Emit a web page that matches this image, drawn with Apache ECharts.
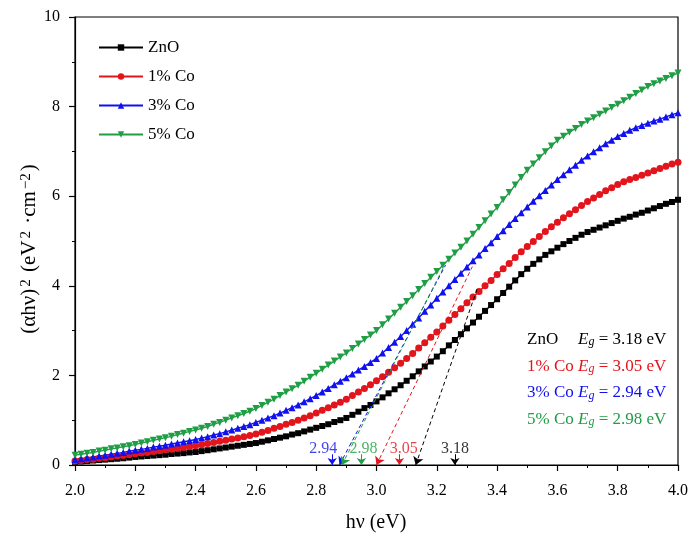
<!DOCTYPE html>
<html>
<head>
<meta charset="utf-8">
<script src="https://cdn.jsdelivr.net/npm/echarts@6/dist/echarts.min.js"></script>
<style>
  html, body { margin: 0; padding: 0; background: #fff; }
  #chart { width: 699px; height: 541px; }
</style>
</head>
<body>
<div id="chart"></div>
<script>
// Photon energy hν (eV)
const energy = [
  2.00, 2.02, 2.04, 2.06, 2.08, 2.10, 2.12, 2.14, 2.16, 2.18,
  2.20, 2.22, 2.24, 2.26, 2.28, 2.30, 2.32, 2.34, 2.36, 2.38,
  2.40, 2.42, 2.44, 2.46, 2.48, 2.50, 2.52, 2.54, 2.56, 2.58,
  2.60, 2.62, 2.64, 2.66, 2.68, 2.70, 2.72, 2.74, 2.76, 2.78,
  2.80, 2.82, 2.84, 2.86, 2.88, 2.90, 2.92, 2.94, 2.96, 2.98,
  3.00, 3.02, 3.04, 3.06, 3.08, 3.10, 3.12, 3.14, 3.16, 3.18,
  3.20, 3.22, 3.24, 3.26, 3.28, 3.30, 3.32, 3.34, 3.36, 3.38,
  3.40, 3.42, 3.44, 3.46, 3.48, 3.50, 3.52, 3.54, 3.56, 3.58,
  3.60, 3.62, 3.64, 3.66, 3.68, 3.70, 3.72, 3.74, 3.76, 3.78,
  3.80, 3.82, 3.84, 3.86, 3.88, 3.90, 3.92, 3.94, 3.96, 3.98,
  4.00
];

// (αhν)^2 for each sample
const znO = [
  0.07, 0.08, 0.09, 0.10, 0.11, 0.12, 0.13, 0.14, 0.15, 0.165,
  0.18, 0.19, 0.20, 0.21, 0.22, 0.23, 0.245, 0.255, 0.265, 0.28,
  0.29, 0.31, 0.33, 0.35, 0.37, 0.39, 0.41, 0.43, 0.45, 0.47,
  0.49, 0.52, 0.55, 0.58, 0.61, 0.64, 0.68, 0.71, 0.75, 0.79,
  0.83, 0.87, 0.91, 0.96, 1.00, 1.05, 1.12, 1.19, 1.27, 1.34,
  1.42, 1.51, 1.60, 1.69, 1.78, 1.88, 1.98, 2.09, 2.20, 2.31,
  2.42, 2.54, 2.67, 2.79, 2.92, 3.05, 3.18, 3.31, 3.44, 3.57,
  3.70, 3.84, 3.98, 4.12, 4.26, 4.38, 4.49, 4.59, 4.69, 4.77,
  4.85, 4.93, 5.00, 5.07, 5.14, 5.20, 5.25, 5.30, 5.35, 5.40,
  5.45, 5.50, 5.54, 5.59, 5.63, 5.68, 5.73, 5.78, 5.83, 5.87,
  5.92
];
const co1 = [
  0.09, 0.10, 0.12, 0.13, 0.15, 0.16, 0.18, 0.20, 0.21, 0.23,
  0.25, 0.27, 0.28, 0.30, 0.32, 0.34, 0.35, 0.37, 0.39, 0.41,
  0.43, 0.45, 0.48, 0.50, 0.53, 0.55, 0.58, 0.60, 0.63, 0.66,
  0.69, 0.73, 0.77, 0.82, 0.86, 0.91, 0.95, 1.00, 1.05, 1.10,
  1.16, 1.22, 1.28, 1.34, 1.40, 1.47, 1.55, 1.63, 1.71, 1.79,
  1.88, 1.97, 2.07, 2.17, 2.27, 2.38, 2.49, 2.61, 2.73, 2.85,
  2.97, 3.10, 3.23, 3.36, 3.49, 3.62, 3.75, 3.87, 4.00, 4.12,
  4.25, 4.38, 4.50, 4.63, 4.76, 4.88, 4.99, 5.10, 5.21, 5.32,
  5.42, 5.52, 5.61, 5.70, 5.79, 5.88, 5.96, 6.04, 6.12, 6.19,
  6.26, 6.32, 6.37, 6.42, 6.47, 6.52, 6.57, 6.62, 6.67, 6.72,
  6.76
];
const co3 = [
  0.12, 0.14, 0.16, 0.18, 0.20, 0.22, 0.24, 0.26, 0.28, 0.31,
  0.33, 0.35, 0.37, 0.40, 0.42, 0.44, 0.47, 0.49, 0.52, 0.54,
  0.57, 0.60, 0.63, 0.67, 0.70, 0.74, 0.78, 0.82, 0.86, 0.90,
  0.95, 1.00, 1.05, 1.10, 1.16, 1.22, 1.28, 1.34, 1.41, 1.48,
  1.55, 1.63, 1.71, 1.79, 1.87, 1.95, 2.03, 2.12, 2.20, 2.29,
  2.38, 2.50, 2.62, 2.74, 2.87, 3.00, 3.14, 3.28, 3.43, 3.57,
  3.72, 3.86, 4.00, 4.14, 4.28, 4.42, 4.56, 4.69, 4.83, 4.96,
  5.10, 5.23, 5.37, 5.50, 5.63, 5.76, 5.89, 6.01, 6.13, 6.25,
  6.37, 6.48, 6.59, 6.69, 6.80, 6.90, 6.99, 7.08, 7.17, 7.25,
  7.33, 7.40, 7.47, 7.53, 7.58, 7.63, 7.68, 7.72, 7.77, 7.82,
  7.86
];
const co5 = [
  0.22, 0.24, 0.26, 0.28, 0.31, 0.33, 0.36, 0.38, 0.41, 0.43,
  0.46, 0.49, 0.52, 0.55, 0.58, 0.61, 0.64, 0.68, 0.71, 0.75,
  0.78, 0.82, 0.86, 0.91, 0.95, 1.00, 1.05, 1.10, 1.15, 1.20,
  1.26, 1.33, 1.40, 1.47, 1.55, 1.63, 1.70, 1.78, 1.87, 1.96,
  2.05, 2.14, 2.23, 2.32, 2.41, 2.50, 2.60, 2.70, 2.80, 2.90,
  3.00, 3.13, 3.26, 3.39, 3.52, 3.65, 3.78, 3.92, 4.05, 4.19,
  4.32, 4.46, 4.59, 4.73, 4.86, 5.00, 5.15, 5.30, 5.45, 5.60,
  5.75, 5.92, 6.08, 6.25, 6.42, 6.58, 6.72, 6.86, 6.99, 7.12,
  7.25, 7.34, 7.43, 7.51, 7.60, 7.68, 7.75, 7.83, 7.90, 7.98,
  8.05, 8.13, 8.21, 8.29, 8.37, 8.45, 8.51, 8.57, 8.63, 8.69,
  8.75
];

const seriesNames = ['ZnO', '1% Co', '3% Co', '5% Co'];
const bandGap = ['3.18', '3.05', '2.94', '2.98'];

// Linear extrapolation segments: [x at y=0, x top, y top]
const fitStart = [3.13, 3.00, 2.877, 2.885];
const fitEndX = [3.335, 3.318, 3.229, 3.223];
const fitEndY = [3.95, 4.43, 4.46, 4.42];

// Short pointer arrows above the axis and their labels
const pointerX = [3.26, 3.076, 2.853, 2.95];
const pointerLabelX = [3.26, 3.09, 2.823, 2.957];

const colors = ['#000000', '#e2141c', '#1010f0', '#1f9e45'];
const symbols = ['rect', 'circle', 'triangle', 'path://M0,0 L2,0 L1,1.75 Z'];
const symbolSizes = [6, 7, 7, 7];
const serif = 'Liberation Serif';
const values = [znO, co1, co3, co5];

const curveSeries = seriesNames.map((name, i) => ({
  name: name,
  type: 'line',
  data: energy.map((e, k) => [e, values[i][k]]),
  symbol: symbols[i],
  symbolSize: symbolSizes[i],
  showAllSymbol: true,
  itemStyle: { color: colors[i] },
  lineStyle: { color: colors[i], width: 1.4 },
  z: 3,
  markLine: {
    silent: true,
    animation: false,
    label: { show: false },
    lineStyle: { color: colors[i], type: [4, 3], width: 1 },
    data: [
      [
        { coord: [fitStart[i], 0], symbol: 'arrow', symbolSize: 8 },
        { coord: [fitEndX[i], fitEndY[i]], symbol: 'none' }
      ],
      [
        { coord: [pointerX[i], 0.24], symbol: 'none', lineStyle: { type: 'solid', width: 1 } },
        { coord: [pointerX[i], 0.0], symbol: 'arrow', symbolSize: 7, lineStyle: { type: 'solid', width: 1 } }
      ]
    ]
  }
}));

const pointerLabels = {
  type: 'scatter',
  silent: true,
  symbolSize: 0,
  z: 5,
  data: seriesNames.map((n, i) => ({
    value: [pointerLabelX[i], 0.36],
    label: {
      show: true,
      position: 'inside',
      formatter: bandGap[i],
      color: colors[i],
      fontFamily: serif,
      fontSize: 16
    }
  }))
};

// Band-gap summary text block: sample name, then E_g value
const gapRows = seriesNames.map((n, i) => ({
  type: 'text', left: 527, top: 331 + i * 26.7,
  style: {
    text: '{n|' + n + '}{i|E}{s|g}{t| = ' + bandGap[i] + ' eV}',
    fill: colors[i],
    rich: {
      n: { fontFamily: serif, fontSize: 17, lineHeight: 21, width: 51, verticalAlign: 'bottom', fill: colors[i] },
      i: { fontFamily: serif, fontStyle: 'italic', fontSize: 17, lineHeight: 21, verticalAlign: 'bottom', fill: colors[i] },
      s: { fontFamily: serif, fontStyle: 'italic', fontSize: 12, lineHeight: 11, verticalAlign: 'bottom', fill: colors[i] },
      t: { fontFamily: serif, fontSize: 17, lineHeight: 21, verticalAlign: 'bottom', fill: colors[i] }
    }
  }
}));

const chart = echarts.init(document.getElementById('chart'), null, { renderer: 'canvas' });
chart.setOption({
  animation: false,
  backgroundColor: '#fff',
  grid: {
    left: 75, right: 21, top: 17, bottom: 76,
    show: true, borderColor: '#000', borderWidth: 1.2, backgroundColor: 'transparent'
  },
  legend: {
    data: seriesNames,
    orient: 'vertical',
    left: 93, top: 34,
    itemWidth: 44, itemHeight: 8, itemGap: 12,
    textStyle: { fontFamily: serif, fontSize: 17, color: '#000' }
  },
  xAxis: {
    type: 'value', min: 2.0, max: 4.0, interval: 0.2,
    axisLine: { lineStyle: { color: '#000', width: 1.2 } },
    axisTick: { show: true, inside: false, length: 6, lineStyle: { color: '#000', width: 1.2 } },
    minorTick: { show: true, splitNumber: 2, length: 3, lineStyle: { color: '#000', width: 1 } },
    splitLine: { show: false },
    axisLabel: { fontFamily: serif, fontSize: 16, color: '#000', margin: 18, formatter: v => v.toFixed(1) }
  },
  yAxis: {
    type: 'value', min: 0, max: 10, interval: 2,
    axisLine: { show: true, lineStyle: { color: '#000', width: 1.2 } },
    axisTick: { show: true, inside: false, length: 6, lineStyle: { color: '#000', width: 1.2 } },
    minorTick: { show: true, splitNumber: 2, length: 3, lineStyle: { color: '#000', width: 1 } },
    splitLine: { show: false },
    axisLabel: { fontFamily: serif, fontSize: 16, color: '#000', margin: 15 }
  },
  graphic: [
    {
      type: 'text', x: 376, y: 523,
      style: {
        text: 'hν (eV)', font: '20px "Liberation Serif"', fill: '#000',
        textAlign: 'center', textVerticalAlign: 'middle'
      }
    },
    {
      type: 'text', x: 31, y: 249, rotation: Math.PI / 2,
      style: {
        text: '{a|(αhν)}{b|2}{a| (eV}{b|2}{a| ·cm}{b|−2}{a|)}',
        textAlign: 'center', textVerticalAlign: 'middle', fill: '#000',
        rich: {
          a: { fontFamily: serif, fontSize: 21, lineHeight: 25, verticalAlign: 'top', fill: '#000' },
          b: { fontFamily: serif, fontSize: 15, lineHeight: 13, verticalAlign: 'top', fill: '#000', padding: [0, 2, 0, 2] }
        }
      }
    }
  ].concat(gapRows),
  series: curveSeries.concat([pointerLabels])
});
</script>
</body>
</html>
